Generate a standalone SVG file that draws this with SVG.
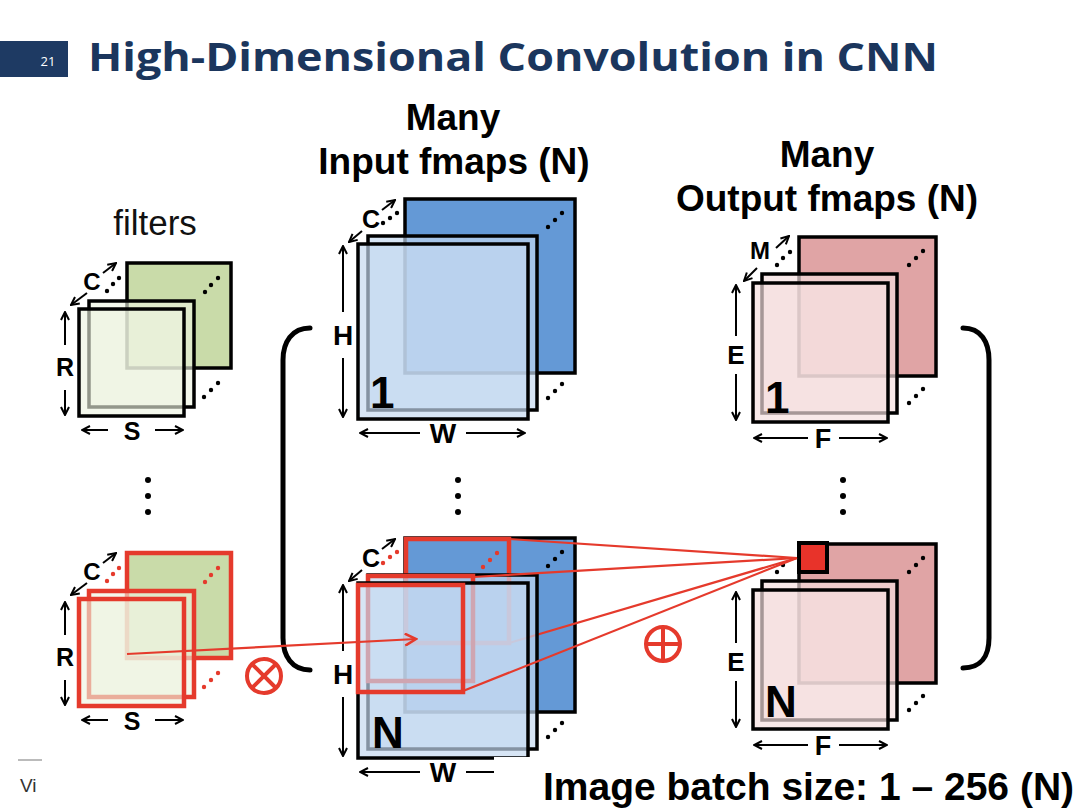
<svg xmlns="http://www.w3.org/2000/svg" width="1080" height="810" viewBox="0 0 1080 810">
<defs>
<style>
.pl{stroke:#000;stroke-width:3.5;stroke-linejoin:miter}
.fb{fill:#c9dba9}
.ff{fill:#eef3e1;fill-opacity:.62}
.ib{fill:#6499d6}
.if{fill:#c4d9f0;fill-opacity:.68}
.ob{fill:#e0a4a5}
.of{fill:#f4dede;fill-opacity:.68}
.red{stroke:#e53a2c;stroke-width:4.5}
.rl{stroke:#e53a2c;stroke-width:2.2;fill:none}
.dim{stroke:#000;stroke-width:2;fill:none}
.lbl{font-family:"Liberation Sans",Arial,sans-serif;font-weight:bold;fill:#000;text-anchor:middle}
.big{font-family:"Liberation Sans",Arial,sans-serif;font-weight:bold;fill:#000}
.d{fill:#000}
.dr{fill:#e53a2c}
.br{stroke:#000;stroke-width:5;fill:none;stroke-linecap:round}
</style>
<marker id="ah" viewBox="0 0 10 10" refX="9" refY="5" markerWidth="10" markerHeight="10" markerUnits="userSpaceOnUse" orient="auto"><path d="M1,1 L9,5 L1,9" fill="none" stroke="#000" stroke-width="2"/></marker>
<marker id="ahr" viewBox="0 0 14 14" refX="12" refY="7" markerWidth="14" markerHeight="14" markerUnits="userSpaceOnUse" orient="auto"><path d="M1,1 L12,7 L1,13" fill="none" stroke="#e53a2c" stroke-width="2.5"/></marker>
</defs>
<rect width="1080" height="810" fill="#fff"/>

<g id="title">
<rect x="0" y="41" width="68" height="36" fill="#1e3a63"/>
<text x="48" y="66" font-family="Open Sans, Liberation Sans, sans-serif" font-size="13" fill="#fff" text-anchor="middle">21</text>
<text x="88" y="71" font-family="Open Sans, Liberation Sans, sans-serif" font-weight="bold" font-size="40" fill="#1b365d" textLength="850" lengthAdjust="spacingAndGlyphs">High-Dimensional Convolution in CNN</text>
</g>

<g id="labels">
<text x="155" y="235" font-family="Liberation Sans, Arial, sans-serif" font-size="35" fill="#111" text-anchor="middle">filters</text>
<text x="453" y="130" class="lbl" font-size="37">Many</text>
<text x="454" y="174" class="lbl" font-size="37">Input fmaps (N)</text>
<text x="827" y="167" class="lbl" font-size="37">Many</text>
<text x="827" y="211" class="lbl" font-size="37">Output fmaps (N)</text>
</g>

<g id="filter-top">
<rect x="127" y="263" width="104" height="105" class="pl fb"/>
<rect x="89" y="301" width="105" height="106" class="pl ff"/>
<rect x="79" y="309" width="105" height="107" class="pl ff"/>
<text x="92" y="290" class="lbl" font-size="24">C</text>
<line x1="87" y1="293" x2="71" y2="305" class="dim" marker-end="url(#ah)"/>
<line x1="103" y1="273" x2="116" y2="263" class="dim" marker-end="url(#ah)"/>
<circle cx="107" cy="291" r="2.2" class="d"/><circle cx="113" cy="284" r="2.2" class="d"/><circle cx="119" cy="278" r="2.2" class="d"/>
<circle cx="205" cy="292" r="2.2" class="d"/><circle cx="211" cy="285" r="2.2" class="d"/><circle cx="218" cy="278" r="2.2" class="d"/>
<circle cx="204" cy="397" r="2.2" class="d"/><circle cx="211" cy="390" r="2.2" class="d"/><circle cx="218" cy="383" r="2.2" class="d"/>
<line x1="65" y1="345" x2="65" y2="312" class="dim" marker-end="url(#ah)"/>
<line x1="65" y1="390" x2="65" y2="415" class="dim" marker-end="url(#ah)"/>
<text x="65" y="376" class="lbl" font-size="25">R</text>
<line x1="108" y1="430" x2="82" y2="430" class="dim" marker-end="url(#ah)"/>
<line x1="155" y1="430" x2="183" y2="430" class="dim" marker-end="url(#ah)"/>
<text x="132" y="440" class="lbl" font-size="25">S</text>
</g>

<g id="ellipses">
<circle cx="148" cy="480" r="3" class="d"/><circle cx="148" cy="496" r="3" class="d"/><circle cx="148" cy="512" r="3" class="d"/>
<circle cx="458" cy="480" r="3" class="d"/><circle cx="458" cy="496" r="3" class="d"/><circle cx="458" cy="512" r="3" class="d"/>
<circle cx="843" cy="480" r="3" class="d"/><circle cx="843" cy="496" r="3" class="d"/><circle cx="843" cy="512" r="3" class="d"/>
</g>

<g id="filter-bottom">
<rect x="127" y="553" width="104" height="105" class="red fb"/>
<rect x="89" y="591" width="105" height="106" class="red ff"/>
<rect x="79" y="599" width="105" height="107" class="red ff"/>
<text x="92" y="580" class="lbl" font-size="24">C</text>
<line x1="87" y1="583" x2="71" y2="595" class="dim" marker-end="url(#ah)"/>
<line x1="103" y1="563" x2="116" y2="553" class="dim" marker-end="url(#ah)"/>
<circle cx="107" cy="581" r="2.2" class="dr"/><circle cx="113" cy="574" r="2.2" class="dr"/><circle cx="119" cy="568" r="2.2" class="dr"/>
<circle cx="205" cy="582" r="2.2" class="dr"/><circle cx="211" cy="575" r="2.2" class="dr"/><circle cx="218" cy="568" r="2.2" class="dr"/>
<circle cx="204" cy="687" r="2.2" class="dr"/><circle cx="211" cy="680" r="2.2" class="dr"/><circle cx="218" cy="673" r="2.2" class="dr"/>
<line x1="65" y1="635" x2="65" y2="602" class="dim" marker-end="url(#ah)"/>
<line x1="65" y1="680" x2="65" y2="705" class="dim" marker-end="url(#ah)"/>
<text x="65" y="666" class="lbl" font-size="25">R</text>
<line x1="108" y1="720" x2="82" y2="720" class="dim" marker-end="url(#ah)"/>
<line x1="155" y1="720" x2="183" y2="720" class="dim" marker-end="url(#ah)"/>
<text x="132" y="730" class="lbl" font-size="25">S</text>
</g>

<g id="brackets">
<path d="M310,328 C292,328 283,342 283,360 L283,638 C283,656 292,670 310,670" class="br"/>
<path d="M963,328 C981,328 989,342 989,360 L989,638 C989,656 981,668 963,668" class="br"/>
</g>

<g id="input-top">
<rect x="405" y="199" width="170" height="174" class="pl ib"/>
<rect x="368" y="236" width="169" height="174" class="pl if"/>
<rect x="358" y="244" width="170" height="175" class="pl if"/>
<text x="370" y="408" class="big" font-size="44">1</text>
<text x="371" y="228" class="lbl" font-size="25">C</text>
<line x1="362" y1="231" x2="349" y2="242" class="dim" marker-end="url(#ah)"/>
<line x1="382" y1="210" x2="395" y2="200" class="dim" marker-end="url(#ah)"/>
<circle cx="383" cy="223" r="2.2" class="d"/><circle cx="390" cy="218" r="2.2" class="d"/><circle cx="397" cy="213" r="2.2" class="d"/>
<circle cx="548" cy="227" r="2.2" class="d"/><circle cx="555" cy="220" r="2.2" class="d"/><circle cx="562" cy="213" r="2.2" class="d"/>
<circle cx="548" cy="398" r="2.2" class="d"/><circle cx="555" cy="391" r="2.2" class="d"/><circle cx="562" cy="384" r="2.2" class="d"/>
<line x1="343" y1="312" x2="343" y2="246" class="dim" marker-end="url(#ah)"/>
<line x1="343" y1="358" x2="343" y2="417" class="dim" marker-end="url(#ah)"/>
<text x="343" y="345" class="lbl" font-size="28">H</text>
<line x1="420" y1="433" x2="360" y2="433" class="dim" marker-end="url(#ah)"/>
<line x1="466" y1="433" x2="525" y2="433" class="dim" marker-end="url(#ah)"/>
<text x="443" y="443" class="lbl" font-size="28">W</text>
</g>

<g id="input-bottom">
<rect x="405" y="538" width="170" height="174" class="pl ib"/>
<rect x="406" y="539" width="103" height="104" class="red" fill="none"/>
<circle cx="483" cy="567" r="2.2" class="dr"/><circle cx="490" cy="560" r="2.2" class="dr"/><circle cx="497" cy="553" r="2.2" class="dr"/>
<circle cx="548" cy="566" r="2.2" class="d"/><circle cx="555" cy="559" r="2.2" class="d"/><circle cx="562" cy="552" r="2.2" class="d"/>
<line x1="509" y1="643" x2="797" y2="558" class="rl"/>
<rect x="368" y="575" width="169" height="174" class="pl if"/>
<rect x="368" y="576" width="105" height="105" class="red" fill="none"/>
<line x1="473" y1="577" x2="797" y2="558" class="rl"/>
<rect x="358" y="583" width="170" height="175" class="pl if"/>
<rect x="358" y="585" width="105" height="107" class="red" fill="none"/>
<text x="372" y="748" class="big" font-size="44">N</text>
<text x="371" y="567" class="lbl" font-size="25">C</text>
<line x1="362" y1="570" x2="349" y2="581" class="dim" marker-end="url(#ah)"/>
<line x1="382" y1="549" x2="395" y2="539" class="dim" marker-end="url(#ah)"/>
<circle cx="383" cy="563" r="2.2" class="dr"/><circle cx="390" cy="557" r="2.2" class="dr"/><circle cx="397" cy="552" r="2.2" class="dr"/>
<circle cx="548" cy="737" r="2.2" class="d"/><circle cx="555" cy="730" r="2.2" class="d"/><circle cx="562" cy="723" r="2.2" class="d"/>
<line x1="343" y1="651" x2="343" y2="585" class="dim" marker-end="url(#ah)"/>
<line x1="343" y1="697" x2="343" y2="756" class="dim" marker-end="url(#ah)"/>
<text x="343" y="684" class="lbl" font-size="28">H</text>
<line x1="420" y1="772" x2="360" y2="772" class="dim" marker-end="url(#ah)"/>
<line x1="466" y1="772" x2="525" y2="772" class="dim" marker-end="url(#ah)"/>
<text x="443" y="782" class="lbl" font-size="28">W</text>
</g>

<g id="output-top">
<rect x="799" y="237" width="137" height="139" class="pl ob"/>
<rect x="762" y="274" width="135" height="139" class="pl of"/>
<rect x="753" y="283" width="135" height="139" class="pl of"/>
<text x="765" y="413" class="big" font-size="44">1</text>
<text x="760" y="259" class="lbl" font-size="24">M</text>
<line x1="757" y1="268" x2="744" y2="281" class="dim" marker-end="url(#ah)"/>
<line x1="776" y1="248" x2="789" y2="236" class="dim" marker-end="url(#ah)"/>
<circle cx="777" cy="265" r="2.2" class="d"/><circle cx="783" cy="258" r="2.2" class="d"/><circle cx="790" cy="252" r="2.2" class="d"/>
<circle cx="909" cy="265" r="2.2" class="d"/><circle cx="916" cy="258" r="2.2" class="d"/><circle cx="923" cy="251" r="2.2" class="d"/>
<circle cx="909" cy="403" r="2.2" class="d"/><circle cx="916" cy="396" r="2.2" class="d"/><circle cx="923" cy="389" r="2.2" class="d"/>
<line x1="736" y1="336" x2="736" y2="285" class="dim" marker-end="url(#ah)"/>
<line x1="736" y1="374" x2="736" y2="420" class="dim" marker-end="url(#ah)"/>
<text x="736" y="364" class="lbl" font-size="26">E</text>
<line x1="808" y1="438" x2="754" y2="438" class="dim" marker-end="url(#ah)"/>
<line x1="839" y1="438" x2="887" y2="438" class="dim" marker-end="url(#ah)"/>
<text x="823" y="448" class="lbl" font-size="27">F</text>
</g>

<g id="output-bottom">
<rect x="799" y="544" width="137" height="139" class="pl ob"/>
<rect x="762" y="581" width="135" height="139" class="pl of"/>
<rect x="753" y="590" width="135" height="139" class="pl of"/>
<rect x="799" y="543" width="28" height="29" fill="#e8332a" stroke="#000" stroke-width="4"/>
<text x="765" y="717" class="big" font-size="44">N</text>
<circle cx="777" cy="572" r="2.2" class="d"/><circle cx="783" cy="565" r="2.2" class="d"/>
<circle cx="909" cy="572" r="2.2" class="d"/><circle cx="916" cy="565" r="2.2" class="d"/><circle cx="923" cy="558" r="2.2" class="d"/>
<circle cx="909" cy="710" r="2.2" class="d"/><circle cx="916" cy="703" r="2.2" class="d"/><circle cx="923" cy="696" r="2.2" class="d"/>
<line x1="736" y1="643" x2="736" y2="592" class="dim" marker-end="url(#ah)"/>
<line x1="736" y1="681" x2="736" y2="727" class="dim" marker-end="url(#ah)"/>
<text x="736" y="671" class="lbl" font-size="26">E</text>
<line x1="808" y1="745" x2="754" y2="745" class="dim" marker-end="url(#ah)"/>
<line x1="839" y1="745" x2="887" y2="745" class="dim" marker-end="url(#ah)"/>
<text x="823" y="755" class="lbl" font-size="27">F</text>
</g>

<g id="connectors">
<line x1="509" y1="539" x2="797" y2="558" class="rl"/>
<line x1="463" y1="691" x2="797" y2="558" class="rl"/>
<line x1="127" y1="654" x2="416" y2="639" class="rl" marker-end="url(#ahr)"/>
</g>

<g id="operators">
<circle cx="264" cy="676" r="17" fill="none" stroke="#e53a2c" stroke-width="4"/>
<line x1="252" y1="664" x2="276" y2="688" stroke="#e53a2c" stroke-width="4"/>
<line x1="276" y1="664" x2="252" y2="688" stroke="#e53a2c" stroke-width="4"/>
<circle cx="663" cy="644" r="17" fill="none" stroke="#e53a2c" stroke-width="4"/>
<line x1="646" y1="644" x2="680" y2="644" stroke="#e53a2c" stroke-width="4"/>
<line x1="663" y1="627" x2="663" y2="661" stroke="#e53a2c" stroke-width="4"/>
</g>

<g id="footer">
<rect x="494" y="757" width="586" height="53" fill="#fff"/>
<text x="543" y="800" class="big" font-size="39" fill="#111">Image batch size: 1 – 256 (N)</text>
<line x1="18" y1="760" x2="42" y2="760" stroke="#bbb" stroke-width="2"/>
<text x="20" y="792" font-family="Liberation Sans, Arial, sans-serif" font-size="19" fill="#333">Vi</text>
</g>
</svg>
